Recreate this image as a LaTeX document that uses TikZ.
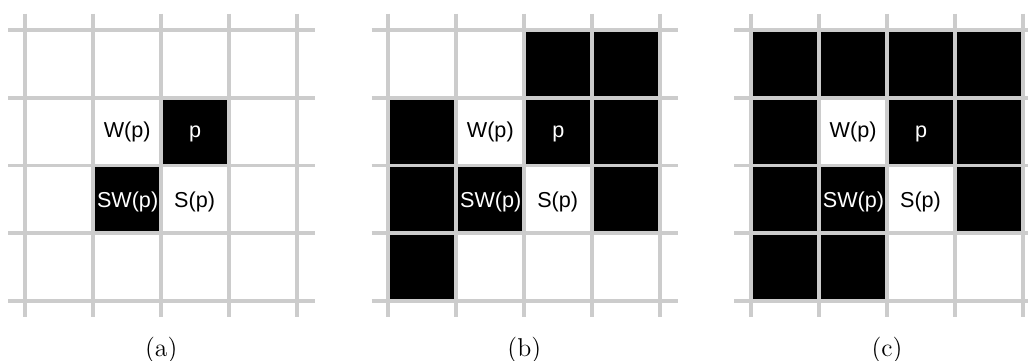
\documentclass[tikz,border=0pt]{standalone}
\usepackage{fontspec}
\newfontfamily\cellfont{Liberation Sans}
\definecolor{gridgray}{RGB}{204,204,204}
\newcommand\gridpanel[4]{%
  \begin{scope}[shift={(#2,0)}]
    \foreach \c/\r in {#3} {
      \fill[blackcell] (25.2+68*\c,30+67.75*\r) rectangle ++(68,67.75);
    }
    \foreach \i in {0,...,4} {
      \draw[gridline] (25.2+68*\i,13.5) -- (25.2+68*\i,317);
      \draw[gridline] (8.4,30+67.75*\i) -- (314.8,30+67.75*\i);
    }
    \node[celltext] (#1-w)  at (127.2,137.5) {W(p)};
    \node[celltext,text=white] (#1-p)  at (195.2,137.5) {p};
    \node[celltext,text=white] (#1-sw) at (127.6,207) {SW(p)};
    \node[celltext] (#1-s)  at (194.6,207) {S(p)};
    \node[caption] (#1-cap) at (161.2,356) {(#4)};
  \end{scope}}
\begin{document}
\begin{tikzpicture}[x=0.5pt,y=-0.5pt,
  gridline/.style={draw=gridgray,line width=1.85pt},
  blackcell/.style={fill=black},
  celltext/.style={font=\cellfont\fontsize{10.8}{13}\selectfont,inner sep=0pt,anchor=base},
  caption/.style={font=\fontsize{12.9}{15}\selectfont,inner sep=0pt,anchor=base}]
\useasboundingbox (0,0) rectangle (1028,360);
\clip (0,0) rectangle (1028,360);
\gridpanel{a}{0}{2/1,1/2}{a}
\gridpanel{b}{363.1}{2/0,3/0,0/1,2/1,3/1,0/2,1/2,3/2,0/3}{b}
\gridpanel{c}{725.9}{0/0,1/0,2/0,3/0,0/1,2/1,3/1,0/2,1/2,3/2,0/3,1/3}{c}
\end{tikzpicture}
\end{document}
